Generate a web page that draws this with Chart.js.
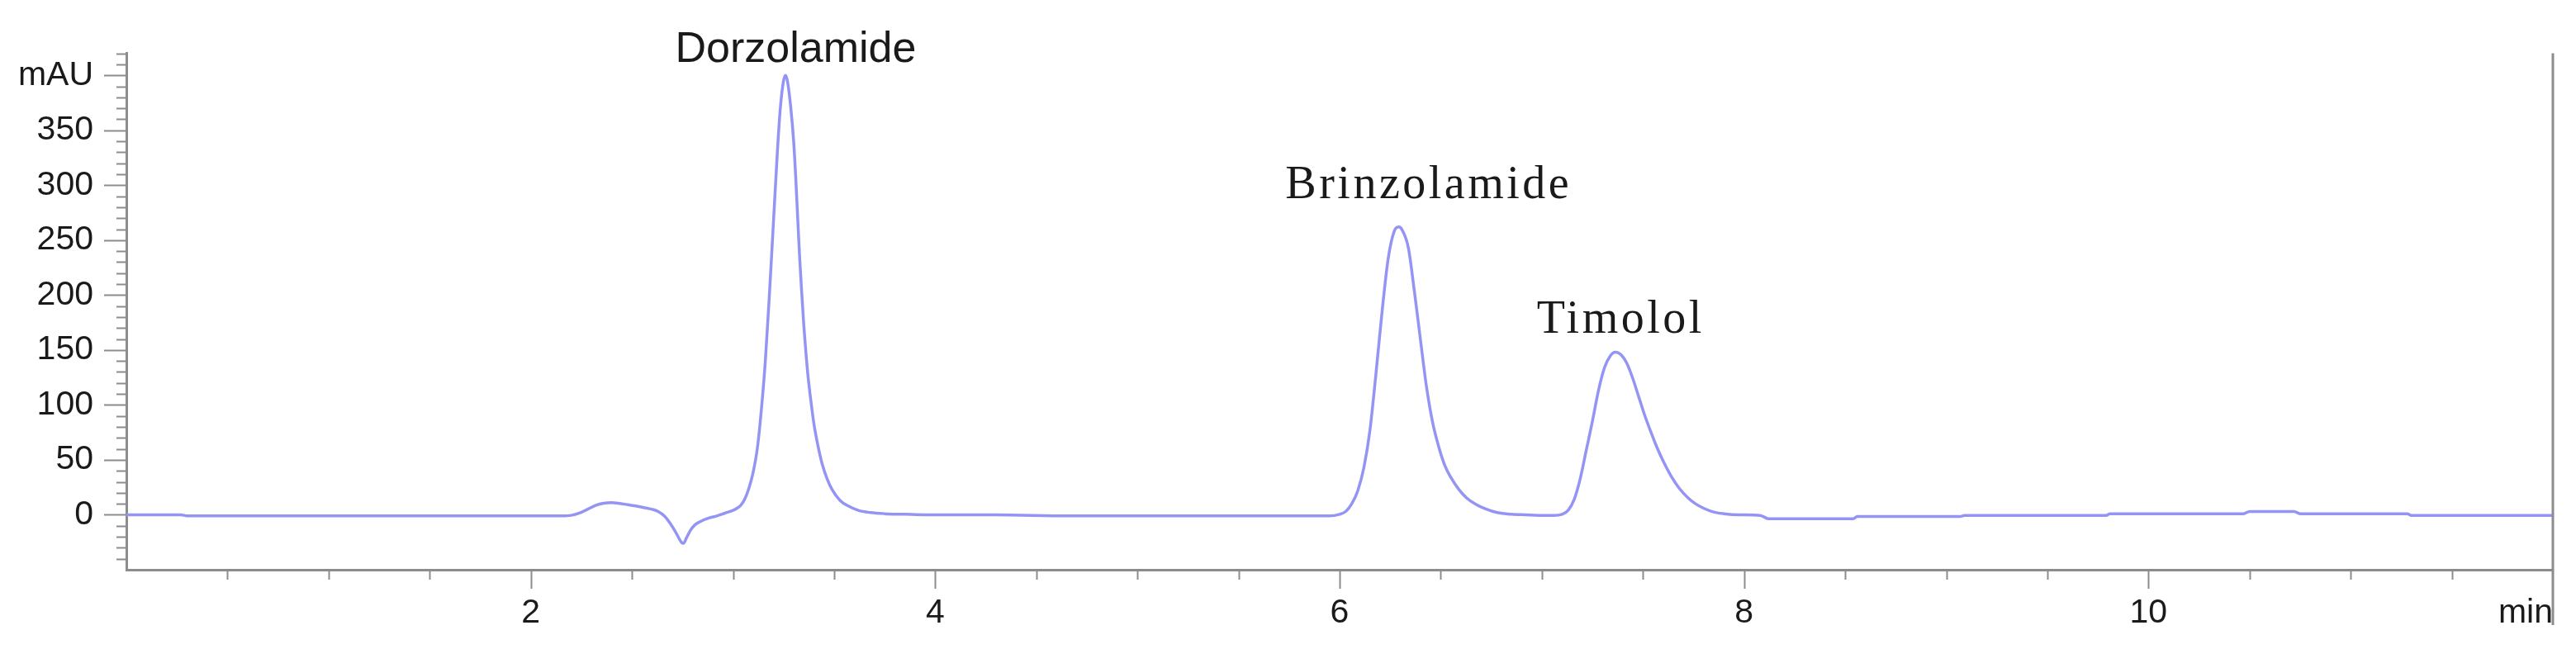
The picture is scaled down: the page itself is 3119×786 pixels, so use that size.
<!DOCTYPE html>
<html>
<head>
<meta charset="utf-8">
<script src="https://cdn.jsdelivr.net/npm/chart.js@4.4.1/dist/chart.umd.min.js"></script>
<style>
  html, body { margin: 0; padding: 0; background: #fff; }
  #wrap { width: 3119px; height: 786px; }
</style>
</head>
<body>
<div id="wrap"><canvas id="chrom" width="3119" height="786"></canvas></div>
<script>
// --- 1. Data: クロマトグラム ---
const TIME_MIN = [
  // baseline + solvent front
  0.00, 0.27, 0.30, 1.00, 2.00, 2.15, 2.20, 2.24, 2.28, 2.32, 2.36, 2.40, 2.44, 2.48, 2.52, 2.56, 2.60, 2.63, 2.66, 2.69,
  2.72, 2.745, 2.755, 2.77, 2.79, 2.81, 2.84, 2.88, 2.92, 2.96,
  // Dorzolamide
  3.00, 3.02, 3.04, 3.06, 3.08, 3.10, 3.12, 3.14, 3.16, 3.18, 3.20, 3.22, 3.235, 3.25, 3.26, 3.27, 3.285, 3.30, 3.31, 3.32,
  3.33, 3.34, 3.35, 3.36, 3.37, 3.385, 3.40, 3.42, 3.44, 3.465, 3.49, 3.53, 3.57, 3.62, 3.68, 3.75, 3.85, 3.95, 4.30, 4.66,
  // Brinzolamide
  5.95, 6.00, 6.03, 6.06, 6.09, 6.12, 6.15, 6.18, 6.21, 6.24, 6.27, 6.293, 6.31, 6.34, 6.37, 6.40, 6.43, 6.46, 6.49, 6.52,
  6.55, 6.59, 6.63, 6.67, 6.72, 6.78, 6.85, 6.92, 7.00,
  // Timolol
  7.06, 7.10, 7.13, 7.16, 7.19, 7.22, 7.25, 7.28, 7.31, 7.34, 7.363, 7.39, 7.42, 7.45, 7.48, 7.51, 7.54, 7.57, 7.60, 7.64,
  7.68, 7.72, 7.76, 7.80, 7.85, 7.90, 7.98, 8.08,
  // tail
  8.12, 8.54, 8.56, 9.07, 9.09, 9.79, 9.81, 10.47, 10.50, 10.72, 10.75, 11.28, 11.30, 12.00
];
const SIGNAL_MAU = [
  0, 0, -1, -1, -1, -1, -0.5, 1.5, 5, 8.5, 10.5, 11, 10.3, 9.2, 8, 6.6, 5, 3, -1, -8,
  -17, -25, -26, -21, -14, -9.5, -6, -3, -1, 1.5,
  4, 6, 9, 15, 25, 39, 60, 95, 140, 200, 266, 332, 372, 395, 400, 394, 372, 340, 308, 270,
  233, 202, 173, 149, 128, 104, 83, 63, 47, 33, 23, 13, 8, 4, 2, 1, 0.5, 0, 0, -1,
  -1, 0.5, 3, 10, 22, 43, 77, 129, 185, 233, 258, 262, 259, 243, 203, 159, 116, 84, 62, 45,
  34, 23, 15, 10, 5.5, 2, 0.5, 0, -0.5,
  -0.5, 0.5, 4, 14, 33, 59, 85, 113, 134, 145, 148, 146, 138, 124, 107, 90, 75, 61, 49, 35,
  24, 16, 10, 6, 2.5, 1, 0, -0.5,
  -3.5, -3.5, -1.5, -1.5, -0.5, -0.5, 1, 1, 3, 3, 1, 1, -0.5, -0.5
];

// axis ranges / ticks
const X_RANGE = [0, 12];
const X_LABELED = [2, 4, 6, 8, 10];
const Y_RANGE = [-50, 420];
const Y_LABELED = [0, 50, 100, 150, 200, 250, 300, 350];
const Y_UNIT_AT = 400;          // "mAU" sits where 400 would be

// peak names and where their captions sit (min, mAU)
const PEAK_NAMES = ['Dorzolamide', 'Brinzolamide', 'Timolol'];
const PEAK_LABEL_T = [3.31, 6.44, 7.39];
const PEAK_LABEL_V = [412, 288, 166];

// --- 2. Styles ---
const LINE_COLOR = '#9494f4';
const AXIS_COLOR = '#8c8c8c';
const TEXT_COLOR = '#1a1a1a';
const TICK_FONT = '41px "Liberation Sans", Arial, sans-serif';

// --- 3. Custom drawing: tick marks, "min", peak captions ---
const decorPlugin = {
  id: 'decor',
  afterDraw: (chart) => {
    const ctx = chart.ctx;
    const xs = chart.scales.x;
    const ys = chart.scales.y;
    ctx.save();

    // x tick marks (major = labeled)
    ctx.strokeStyle = AXIS_COLOR;
    ctx.lineWidth = 2;
    xs.ticks.forEach(t => {
      if (t.value <= X_RANGE[0] || t.value >= X_RANGE[1]) return;
      const px = Math.round(xs.getPixelForValue(t.value)) + 0.5;
      const len = X_LABELED.includes(t.value) ? 23 : 12;
      ctx.beginPath();
      ctx.moveTo(px, xs.top);
      ctx.lineTo(px, xs.top + len);
      ctx.stroke();
    });

    // y tick marks
    ys.ticks.forEach(t => {
      if (t.value <= Y_RANGE[0]) return;
      const py = Math.round(ys.getPixelForValue(t.value)) + 0.5;
      const major = Y_LABELED.includes(t.value) || t.value === Y_UNIT_AT;
      const len = major ? 27 : 12;
      ctx.beginPath();
      ctx.moveTo(ys.right, py);
      ctx.lineTo(ys.right - len, py);
      ctx.stroke();
    });

    // right frame line
    ctx.lineWidth = 3;
    ctx.beginPath();
    ctx.moveTo(chart.chartArea.right, chart.chartArea.top);
    ctx.lineTo(chart.chartArea.right, xs.top + 67);
    ctx.stroke();

    // unit on the time axis
    ctx.fillStyle = TEXT_COLOR;
    ctx.font = TICK_FONT;
    ctx.textAlign = 'right';
    ctx.textBaseline = 'middle';
    ctx.fillText('min', chart.chartArea.right, xs.top + 53);

    // peak captions
    ctx.textAlign = 'center';
    ctx.textBaseline = 'alphabetic';
    PEAK_NAMES.forEach((name, i) => {
      if (i === 0) {
        ctx.font = '52px "Liberation Sans", Arial, sans-serif';
        ctx.letterSpacing = '0px';
      } else {
        ctx.font = '56px "Liberation Serif", "Times New Roman", serif';
        ctx.letterSpacing = '3.5px';
      }
      ctx.fillText(name, xs.getPixelForValue(PEAK_LABEL_T[i]), ys.getPixelForValue(PEAK_LABEL_V[i]));
    });
    ctx.restore();
  }
};

// --- 4. Chart ---
const points = TIME_MIN.map((t, i) => ({ x: t, y: SIGNAL_MAU[i] }));

new Chart(document.getElementById('chrom'), {
  type: 'line',
  data: {
    datasets: [{
      data: points,
      borderColor: LINE_COLOR,
      borderWidth: 3.5,
      pointRadius: 0,
      cubicInterpolationMode: 'monotone',
      fill: false
    }]
  },
  options: {
    responsive: false,
    animation: false,
    devicePixelRatio: 1,
    layout: { padding: { top: 53, right: 21, left: 0, bottom: 0 } },
    plugins: { legend: { display: false }, tooltip: { enabled: false } },
    scales: {
      x: {
        type: 'linear',
        min: X_RANGE[0], max: X_RANGE[1],
        afterFit: (scale) => { scale.height = 96; },
        grid: { drawOnChartArea: false, drawTicks: false },
        border: { display: true, color: AXIS_COLOR, width: 3 },
        ticks: {
          stepSize: 0.5, autoSkip: false, maxRotation: 0, padding: 28,
          color: TEXT_COLOR,
          font: { family: '"Liberation Sans", Arial, sans-serif', size: 41 },
          callback: (v) => X_LABELED.includes(v) ? String(v) : ''
        }
      },
      y: {
        type: 'linear',
        min: Y_RANGE[0], max: Y_RANGE[1],
        afterFit: (scale) => { scale.width = 153; },
        grid: { drawOnChartArea: false, drawTicks: false },
        border: { display: true, color: AXIS_COLOR, width: 3 },
        ticks: {
          stepSize: 10, autoSkip: false, padding: 40,
          color: TEXT_COLOR,
          font: { family: '"Liberation Sans", Arial, sans-serif', size: 41 },
          callback: (v) => v === Y_UNIT_AT ? 'mAU' : (Y_LABELED.includes(v) ? String(v) : '')
        }
      }
    }
  },
  plugins: [decorPlugin]
});
</script>
</body>
</html>
